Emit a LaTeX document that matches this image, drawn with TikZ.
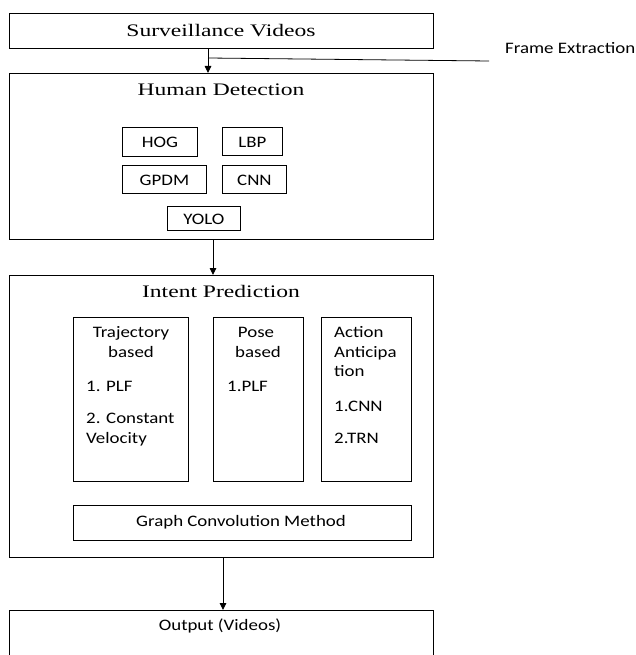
\documentclass[tikz,border=0pt]{standalone}
\usepackage{fontspec}
\setmainfont{Liberation Serif}
\newfontfamily\calfont{Carlito}
\usetikzlibrary{arrows.meta}
\newcommand\serifT[1]{\scalebox{1.34}[1]{\fontsize{17.6}{20}\selectfont #1}}
\newcommand\sansT[1]{\scalebox{1.18}[1]{\calfont\fontsize{16}{19}\selectfont #1}}
\begin{document}
\begin{tikzpicture}[x=1pt,y=-1pt,
  box/.style={draw=black, line width=0.9pt, rectangle, inner sep=0pt, anchor=north west},
  ttl/.style={inner sep=0pt, anchor=mid, yshift=-3.5pt},
  lbl/.style={inner sep=0pt, anchor=mid, yshift=-3.5pt},
  lbll/.style={inner sep=0pt, anchor=mid west, yshift=-3.5pt},
  arr/.style={line width=0.9pt, -{Triangle[width=6.5pt,length=7pt]}},
  ln/.style={line width=0.8pt}
]
\useasboundingbox (0,0) rectangle (635,655);
\clip (0,0) rectangle (635,655);

% main boxes
\node[box, minimum width=424pt, minimum height=35pt] (sv) at (9,13) {};
\node[box, minimum width=424pt, minimum height=166pt] (hd) at (9,73) {};
\node[box, minimum width=424pt, minimum height=282pt] (ip) at (9,275) {};
\node[box, minimum width=424pt, minimum height=80pt] (out) at (9,610) {};

% titles
\node[ttl] (svt) at (221,31) {\serifT{Surveillance Videos}};
\node[ttl] (hdt) at (221,90) {\serifT{Human Detection}};
\node[ttl] (ipt) at (221,292) {\serifT{Intent Prediction}};
\node[lbl] (outt) at (220,625) {\sansT{Output (Videos)}};

% human detection inner boxes
\node[box, minimum width=75pt, minimum height=29pt] (hog) at (122,127) {};
\node[box, minimum width=60pt, minimum height=28pt] (lbp) at (222,127) {};
\node[box, minimum width=84pt, minimum height=28pt] (gpdm) at (122,165) {};
\node[box, minimum width=64pt, minimum height=28pt] (cnn) at (222,165) {};
\node[box, minimum width=73pt, minimum height=24pt] (yolo) at (167,206) {};
\node[lbl] at (hog.center) (hogt) {\sansT{HOG}};
\node[lbl] at (lbp.center) (lbpt) {\sansT{LBP}};
\node[lbl] at (gpdm.center) (gpdmt) {\sansT{GPDM}};
\node[lbl] at (cnn.center) (cnnt) {\sansT{CNN}};
\node[lbl] at (yolo.center) (yolot) {\sansT{YOLO}};

% intent prediction inner boxes
\node[box, minimum width=115pt, minimum height=164pt] (traj) at (73,317) {};
\node[box, minimum width=90pt, minimum height=164pt] (pose) at (213,317) {};
\node[box, minimum width=90pt, minimum height=164pt] (act) at (321,317) {};
\node[box, minimum width=338pt, minimum height=35pt] (gcm) at (73,505) {};

\node[lbl] (tr1) at (131,332) {\sansT{Trajectory}};
\node[lbl] (tr2) at (131,352) {\sansT{based}};
\node[lbll] (tr3) at (86,386) {\sansT{1. PLF}};
\node[lbll] (tr4) at (86,418) {\sansT{2. Constant}};
\node[lbll] (tr5) at (86,438) {\sansT{Velocity}};

\node[lbl] (po1) at (256,332) {\sansT{Pose}};
\node[lbl] (po2) at (258,352) {\sansT{based}};
\node[lbll] (po3) at (227,386) {\sansT{1.PLF}};

\node[lbll] (ac1) at (334,332) {\sansT{Action}};
\node[lbll] (ac2) at (334,352) {\sansT{Anticipa}};
\node[lbll] (ac3) at (334,371) {\sansT{tion}};
\node[lbll] (ac4) at (334,406) {\sansT{1.CNN}};
\node[lbll] (ac5) at (334,438) {\sansT{2.TRN}};

\node[lbl] (gcmt) at (241,521) {\sansT{Graph Convolution Method}};

% frame extraction
\node[lbll] (fe) at (505,48) {\sansT{Frame Extraction}};

% connectors
\coordinate (c1) at (208,0);
\coordinate (c2) at (213,0);
\coordinate (c3) at (223,0);
\coordinate (fx) at (208,58);
\coordinate (fend) at (489,61);
\draw[arr] (sv.south -| c1) -- (hd.north -| c1);
\draw[ln] (fx) -- (fend);
\draw[arr] (hd.south -| c2) -- (ip.north -| c2);
\draw[arr] (ip.south -| c3) -- (out.north -| c3);
\end{tikzpicture}
\end{document}
